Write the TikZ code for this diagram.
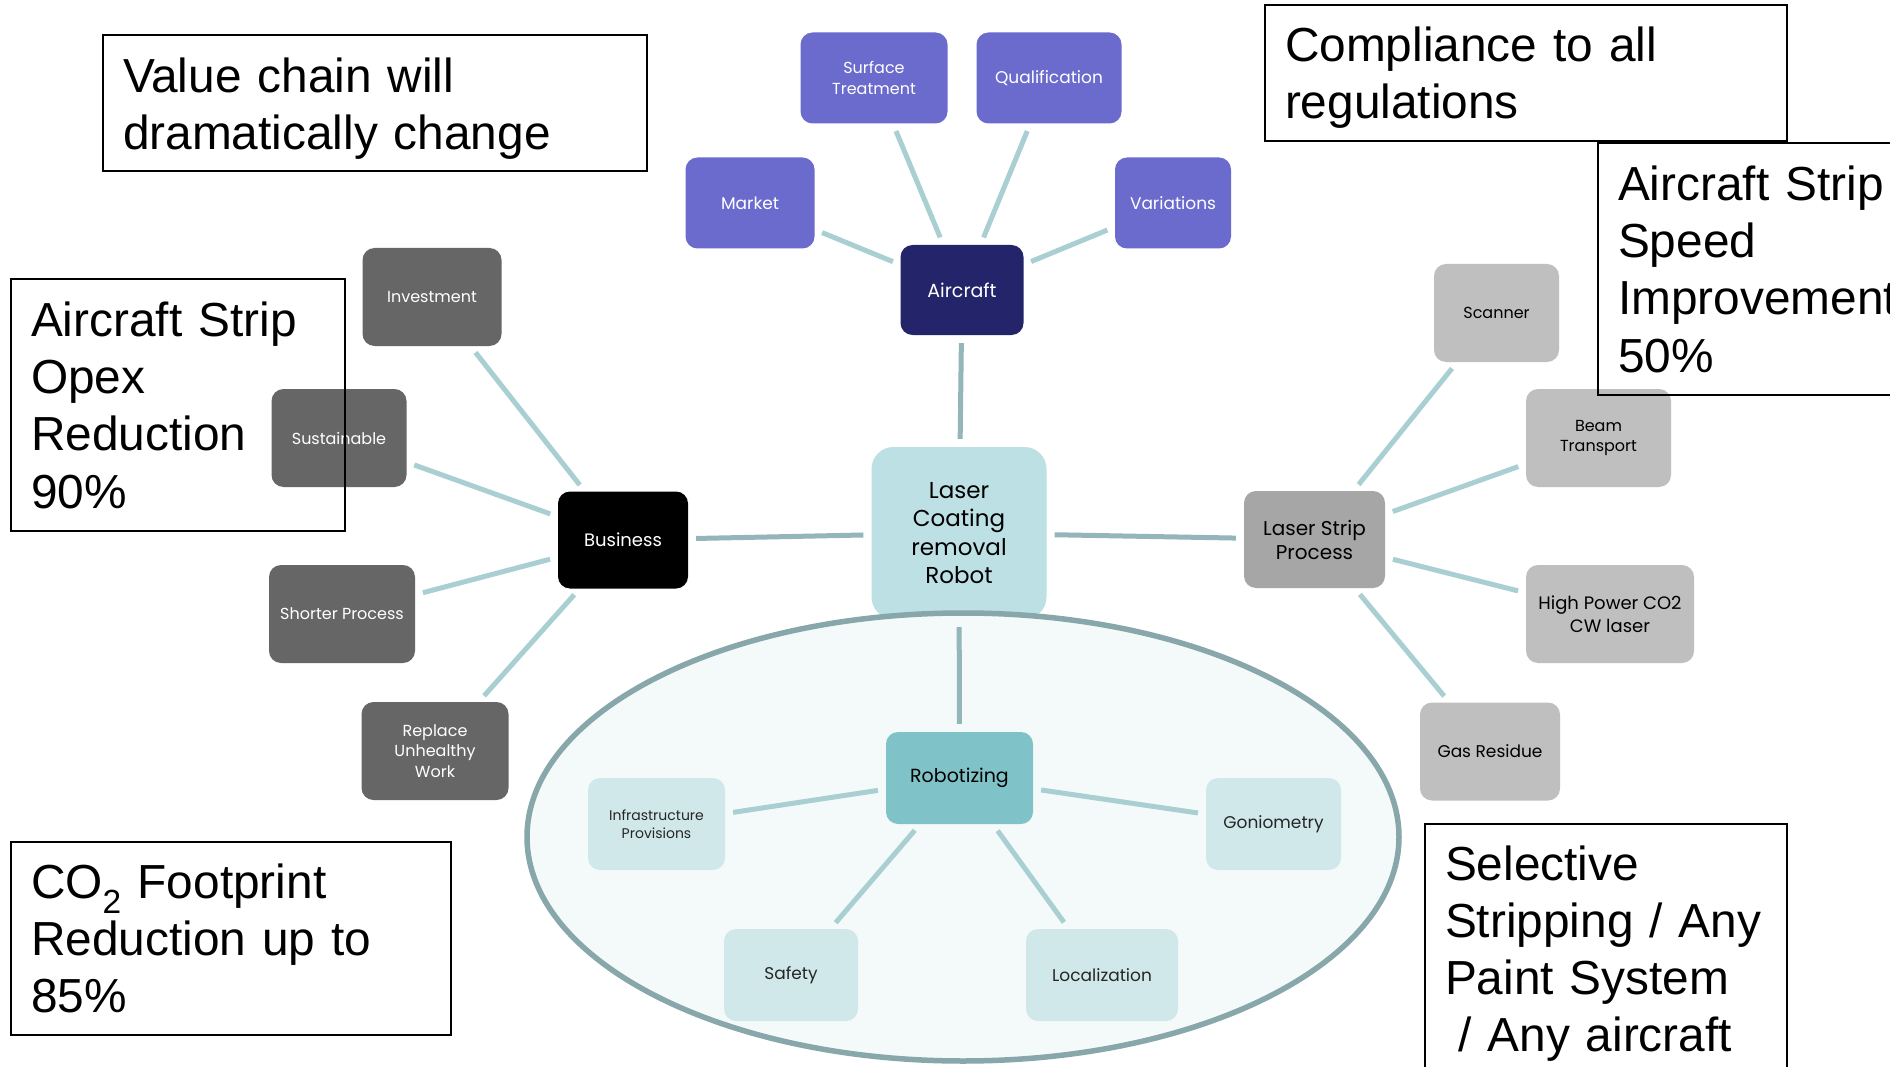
\documentclass[tikz,border=0pt]{standalone}
\usepackage{fontspec}
\setmainfont{Liberation Sans}
\newfontfamily\gothique{Poppins}
\usetikzlibrary{shapes}

\definecolor{marine}{HTML}{24246B}
\definecolor{mauve}{HTML}{6B6BCE}
\definecolor{anthracite}{HTML}{666666}
\definecolor{acier}{HTML}{A6A6A6}
\definecolor{perle}{HTML}{BFBFBF}
\definecolor{lagon}{HTML}{BCE0E4}
\definecolor{turquoise}{HTML}{7FC3C9}
\definecolor{ecume}{HTML}{D1E8EB}
\definecolor{brume}{HTML}{F4FAFA}
\definecolor{bordure}{HTML}{88A7AB}
\definecolor{filet}{HTML}{A9CFD3}
\definecolor{filetfonce}{HTML}{94B5B9}

\newcommand{\corps}[2][1.3]{\fontsize{#2}{\fpeval{#1*#2}}\selectfont}
\tikzstyle{bulle}=[rectangle, rounded corners=12, inner sep=0, align=center]
\tikzstyle{lien}=[draw=filet, line width=5, shorten <=8, shorten >=8]
\tikzstyle{tronc}=[draw=filetfonce, line width=5, shorten <=8, shorten >=8]
\tikzstyle{cadre}=[rectangle, draw=black, line width=2, inner xsep=20, inner ysep=0, align=left, anchor=north west, font=\fontsize{47.8}{57.3}\selectfont]
\newcommand{\relie}[2]{ \draw[lien] (#1) -- (#2); }
\newcommand{\attache}[2]{ \draw[tronc] (#1) -- (#2); }

\begin{document}
\begin{tikzpicture}[x=1pt,y=-1pt]

 \path[use as bounding box, fill=white] (0,0) rectangle (1890,1067);
 \clip (0,0) rectangle (1890,1067);

 % noeud central et les quatre branches
 \node[bulle, rounded corners=22, fill=lagon, minimum width=175, minimum height=172, font=\gothique\fontsize{23}{28.5}\selectfont] (coeur) at (959,533) {Laser\\Coating\\removal\\Robot};
 \node[bulle, fill=marine, text=white, minimum width=123, minimum height=90, font=\gothique\corps{19}] (avion) at (962,290) {Aircraft};
 \node[bulle, fill=black, text=white, minimum width=130, minimum height=97, font=\gothique\corps{18}] (affaire) at (623,540) {Business};
 \node[bulle, fill=acier, minimum width=141, minimum height=97, font={\gothique\corps[1.2]{20}}] (procede) at (1314.5,539.5) {Laser Strip\\Process};

 \attache{coeur}{avion};
 \attache{coeur}{affaire};
 \attache{coeur}{procede};

 % zone robotisation
 \draw[line width=5.5, draw=bordure, fill=brume] (963,837) ellipse [x radius=436pt, y radius=224pt];
 \node[bulle, fill=turquoise, minimum width=147, minimum height=92, font=\gothique\corps{19}] (robot) at (959.5,778) {Robotizing};
 \attache{coeur}{robot};

 \foreach \nom/\x/\y/\w/\tp/\texte in {st/874/78/147/16/{Surface\\Treatment}, qu/1049/78/145/17/Qualification, ma/750/203/129/17/Market, va/1173/203/116/17/Variations}
 {
     \node[bulle, fill=mauve, text=white, minimum width=\w, minimum height=91, font=\gothique\corps{\tp}] (\nom) at (\x,\y) {\texte};
     \relie{avion}{\nom};
 }

 \foreach \nom/\x/\y/\w/\tp/\texte in {inv/432/297/139/16/Investment, su/339/438/135/16/Sustainable, sp/342/614/146/16/{Shorter Process}, ru/435/751/147/16/{Replace\\Unhealthy\\Work}}
 {
     \node[bulle, fill=anthracite, text=white, minimum width=\w, minimum height=98, font=\gothique\corps{\tp}] (\nom) at (\x,\y) {\texte};
     \relie{affaire}{\nom};
 }

 \foreach \nom/\x/\y/\w/\tp/\texte in {sc/1496.5/313/125/16/Scanner, bt/1598.5/438/145/16/{Beam\\Transport}, hp/1610/614/168/18/{High Power CO2\\CW laser}, gr/1490/751.5/140/17/{Gas Residue}}
 {
     \node[bulle, fill=perle, minimum width=\w, minimum height=98, font=\gothique\corps{\tp}] (\nom) at (\x,\y) {\texte};
     \relie{procede}{\nom};
 }

 \foreach \nom/\x/\y/\w/\tp/\texte in {ip/656.5/824/137/14/{Infrastructure\\Provisions}, go/1273.5/824/135/17/Goniometry, sa/791/975/134/17/Safety, lo/1102/975/152/17/Localization}
 {
     \node[bulle, fill=ecume, text=black!85, minimum width=\w, minimum height=92, font=\gothique\corps{\tp}] (\nom) at (\x,\y) {\texte};
     \relie{robot}{\nom};
 }

 % encadres de texte
 \node[cadre, minimum width=544, minimum height=136, text width=504] (valeur) at (102,34) {\rule{0pt}{46pt}Value chain will\\dramatically change};
 \node[cadre, minimum width=522, minimum height=136, text width=482] (conformite) at (1264,4) {\rule{0pt}{44pt}Compliance to all\\regulations};
 \node[cadre, minimum width=360, minimum height=252, text width=320] (vitesse) at (1597,142) {Aircraft Strip\\Speed\\Improvement\\50\%};
 \node[cadre, minimum width=334, minimum height=252, text width=294] (opex) at (10,278) {Aircraft Strip\\Opex\\Reduction\\90\%};
 \node[cadre, minimum width=440, minimum height=193, text width=400] (empreinte) at (10,841) {CO\textsubscript{2} Footprint\\Reduction up to\\85\%};
 \node[cadre, minimum width=362, minimum height=252, text width=322] (selectif) at (1424,823) {\rule{0pt}{42pt}Selective\\Stripping / Any\\Paint System\\\hspace*{0.28em}/ Any aircraft};

\end{tikzpicture}
\end{document}
